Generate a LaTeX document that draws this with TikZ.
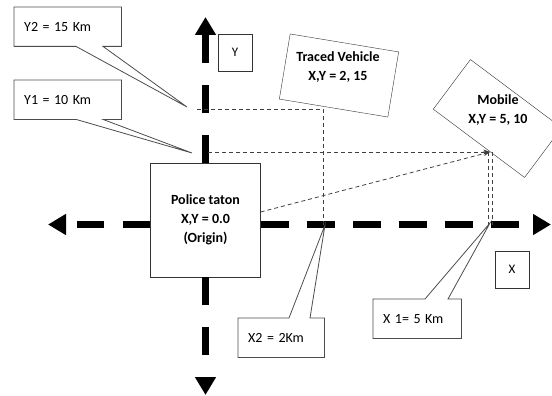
\documentclass[tikz,border=0pt]{standalone}
\usepackage{fontspec}
\setmainfont{Carlito}
\usetikzlibrary{arrows.meta,positioning,calc}

\begin{document}
\begin{tikzpicture}[x=1pt,y=-1pt,>=Stealth,
  bx/.style={draw=black!80,fill=white,inner sep=0pt},
  bt/.style={font=\fontsize{14}{19}\selectfont\bfseries,align=center},
  ax/.style={line width=7pt,-{Triangle[length=18pt,width=20pt]}},
  lbl/.style={font=\fontsize{14}{16}\selectfont,execute at begin node={\spaceskip=4.5pt plus 1pt\relax},
    align=left,anchor=north west,inner xsep=10pt,minimum height=39},
  co/.style={draw=black!70,line width=0.8pt},
  gd/.style={dash pattern=on 4pt off 3pt,black!75,line width=0.8pt}]
  \useasboundingbox (0,0) rectangle (552,396);
  % origin box and axes
  \node[bx,bt,minimum width=110,minimum height=114] (police) at (205.5,220) {Police taton\\X,Y = 0.0\\(Origin)};
  \coordinate (o) at (205.5,224.5);
  \coordinate (xend) at (551,224.5);
  \coordinate (xbeg) at (48,224.5);
  \coordinate (yend) at (205.5,17);
  \coordinate (ybeg) at (205.5,395);
  \draw[ax,dash pattern=on 28pt off 18pt] (police.east |- o) -- (xend);
  \draw[ax,dash pattern=on 27pt off 19pt] (police.west |- o) -- (xbeg);
  \draw[ax,dash pattern=on 28pt off 22pt] (police.north) -- (yend);
  \draw[ax,dash pattern=on 28pt off 22pt] (police.south) -- (ybeg);
  \node[bx,font=\fontsize{13}{16}\selectfont,minimum width=34,minimum height=37] (ylab) at (235,52.5) {Y};
  \node[bx,font=\fontsize{13}{16}\selectfont,minimum width=34,minimum height=37] (xlab) at (512,269.5) {X};
  % positions
  \node[bx,rotate=-9.4,minimum width=110,minimum height=66] (traced) at (339,75.5) {};
  \node[bt] (tracedtxt) at (338,67) {Traced Vehicle\\X,Y = 2, 15};
  \node[bx,rotate=-36.8,minimum width=114,minimum height=62] (mobile) at (497.5,118.5) {};
  \node[bt] (mobiletxt) at (498,110) {Mobile\\X,Y = 5, 10};
  \coordinate (ytwo) at (197,109);
  \coordinate (xtwo) at (323,224.5);
  \coordinate (yone) at (208,152);
  \coordinate (mob) at (490,152);
  \coordinate (xone) at (490,224.5);
  \draw[gd] (ytwo) -| (xtwo);
  \draw[gd,->] (yone) -- (mob);
  \draw[gd,->] ([yshift=8pt]police.east) -- (mob);
  \draw[gd] ([xshift=-2pt]mob) -- ([xshift=-2pt]xone);
  \draw[gd] ([xshift=2pt]mob) -- ([xshift=2pt]xone);
  % callouts
  \coordinate (ytwotip) at (187,107);
  \coordinate (yonetip) at (192,153);
  \coordinate (xtwotip) at (325,225);
  \coordinate (xonetip) at (490,223);
  \node[lbl,text width=87] (ytwolbl) at (14,7) {Y2 = 15 Km};
  \node[lbl,text width=87] (yonelbl) at (14,80) {Y1 = 10 Km};
  \node[lbl,text width=66] (xtwolbl) at (238,318) {X2 = 2Km};
  \node[lbl,text width=68] (xonelbl) at (373,299) {X 1= 5 Km};
  \draw[co] (ytwolbl.south west) -- (ytwolbl.north west) -- (ytwolbl.north east) -- (ytwolbl.south east)
    -- ([xshift=89pt]ytwolbl.south west) -- (ytwotip) -- ([xshift=62pt]ytwolbl.south west) -- cycle;
  \draw[co] (yonelbl.south west) -- (yonelbl.north west) -- (yonelbl.north east) -- (yonelbl.south east)
    -- ([xshift=89pt]yonelbl.south west) -- (yonetip) -- ([xshift=62pt]yonelbl.south west) -- cycle;
  \draw[co] (xtwolbl.north west) -- ([xshift=51pt]xtwolbl.north west) -- (xtwotip) -- ([xshift=72pt]xtwolbl.north west)
    -- (xtwolbl.north east) -- (xtwolbl.south east) -- (xtwolbl.south west) -- cycle;
  \draw[co] (xonelbl.north west) -- ([xshift=52pt]xonelbl.north west) -- (xonetip) -- ([xshift=75pt]xonelbl.north west)
    -- (xonelbl.north east) -- (xonelbl.south east) -- (xonelbl.south west) -- cycle;
\end{tikzpicture}
\end{document}
